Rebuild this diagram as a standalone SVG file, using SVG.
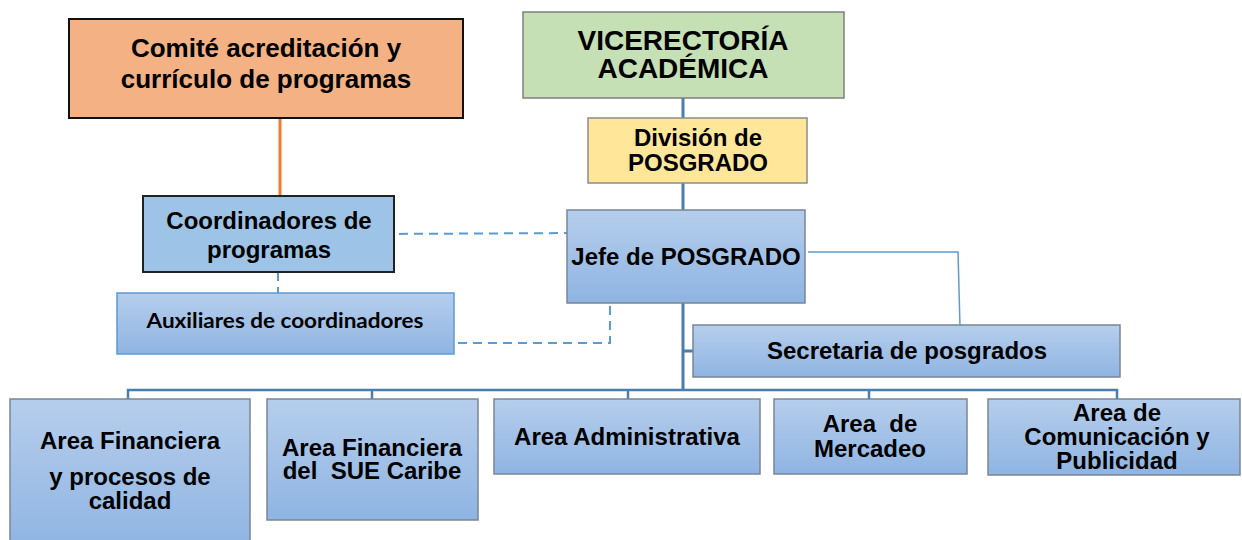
<svg xmlns="http://www.w3.org/2000/svg" width="1242" height="540" viewBox="0 0 1242 540">
<defs>
<linearGradient id="blueGrad" x1="0" y1="0" x2="0" y2="1">
<stop offset="0" stop-color="#B6CEEC"/>
<stop offset="1" stop-color="#8FB4E2"/>
</linearGradient>
<style>
text{font-family:"Liberation Sans",Arial,sans-serif;font-weight:bold;fill:#000;text-anchor:middle}
.t24{font-size:24px}
.grad{fill:url(#blueGrad);stroke:#7A8696;stroke-width:1.5}
.trunk{stroke:#4A7DB0;stroke-width:3;fill:none}
.bus{stroke:#4A7DB0;stroke-width:2.5;fill:none}
.dash{stroke:#5B9BD5;stroke-width:2;stroke-dasharray:9 6;fill:none}
.thin{stroke:#5B9BD5;stroke-width:1.5;fill:none}
</style>
</defs>
<rect width="1242" height="540" fill="#FFFFFF"/>
<g id="connectors">
<line x1="280" y1="118" x2="280" y2="197" stroke="#ED7D31" stroke-width="3"/>
<line class="trunk" x1="683" y1="98" x2="683" y2="118"/>
<line class="trunk" x1="683" y1="183" x2="683" y2="210"/>
<line class="trunk" x1="683" y1="303" x2="683" y2="390"/>
<line class="trunk" x1="683" y1="351" x2="693" y2="351"/>
<polyline class="bus" points="128,399 128,390 1117,390 1117,399"/>
<line class="bus" x1="372" y1="390" x2="372" y2="399"/>
<line class="bus" x1="628" y1="390" x2="628" y2="399"/>
<line class="bus" x1="869" y1="390" x2="869" y2="399"/>
<line class="dash" x1="384" y1="234" x2="573" y2="233"/>
<line class="dash" x1="278" y1="272" x2="278" y2="293"/>
<polyline class="dash" points="458,343 610,343 610,297"/>
<polyline class="thin" points="808,252 958,252 960,326"/>
</g>
<g id="comite">
<rect x="69" y="19" width="394" height="99" fill="#F4B183" stroke="#111" stroke-width="2"/>
<text x="266" y="57" font-size="26">Comité acreditación y</text>
<text x="266" y="88" font-size="26">currículo de programas</text>
</g>
<g id="vicerectoria">
<rect x="523" y="12" width="321" height="86" fill="#C5E0B4" stroke="#7F7F7F" stroke-width="1.5"/>
<text x="683" y="50" font-size="28">VICERECTORÍA</text>
<text x="683" y="78" font-size="28">ACADÉMICA</text>
</g>
<g id="division">
<rect x="588" y="118" width="219" height="65" fill="#FFE699" stroke="#8C8C8C" stroke-width="1.5"/>
<text class="t24" x="698" y="146">División de</text>
<text class="t24" x="698" y="171">POSGRADO</text>
</g>
<g id="coordinadores">
<rect x="143" y="196" width="251" height="76" fill="#9DC3E6" stroke="#222" stroke-width="2"/>
<text class="t24" x="269" y="229">Coordinadores de</text>
<text class="t24" x="269" y="258">programas</text>
</g>
<g id="auxiliares">
<rect x="117" y="293" width="337" height="61" fill="url(#blueGrad)" stroke="#5B9BD5" stroke-width="1.5"/>
<text x="285" y="328" style="font-family:Lato,'Open Sans',sans-serif;font-size:21px" textLength="277" lengthAdjust="spacingAndGlyphs">Auxiliares de coordinadores</text>
</g>
<g id="jefe">
<rect class="grad" x="567" y="210" width="238" height="93"/>
<text class="t24" x="686" y="265">Jefe de POSGRADO</text>
</g>
<g id="secretaria">
<rect class="grad" x="693" y="325" width="427" height="52"/>
<text class="t24" x="907" y="359">Secretaria de posgrados</text>
</g>
<g id="area-financiera-calidad">
<rect class="grad" x="10" y="399" width="240" height="150"/>
<text class="t24" x="130" y="449">Area Financiera</text>
<text class="t24" x="130" y="485">y procesos de</text>
<text class="t24" x="130" y="509">calidad</text>
</g>
<g id="area-financiera-sue">
<rect class="grad" x="267" y="399" width="211" height="121"/>
<text class="t24" x="372" y="456">Area Financiera</text>
<text class="t24" x="372" y="479" xml:space="preserve">del  SUE Caribe</text>
</g>
<g id="area-administrativa">
<rect class="grad" x="494" y="399" width="266" height="75"/>
<text class="t24" x="627" y="445">Area Administrativa</text>
</g>
<g id="area-mercadeo">
<rect class="grad" x="774" y="399" width="193" height="75"/>
<text class="t24" x="870" y="432" xml:space="preserve">Area  de</text>
<text class="t24" x="870" y="457">Mercadeo</text>
</g>
<g id="area-comunicacion">
<rect class="grad" x="988" y="399" width="252" height="76"/>
<text class="t24" x="1117" y="421">Area de</text>
<text class="t24" x="1117" y="445">Comunicación y</text>
<text class="t24" x="1117" y="469">Publicidad</text>
</g>
</svg>
